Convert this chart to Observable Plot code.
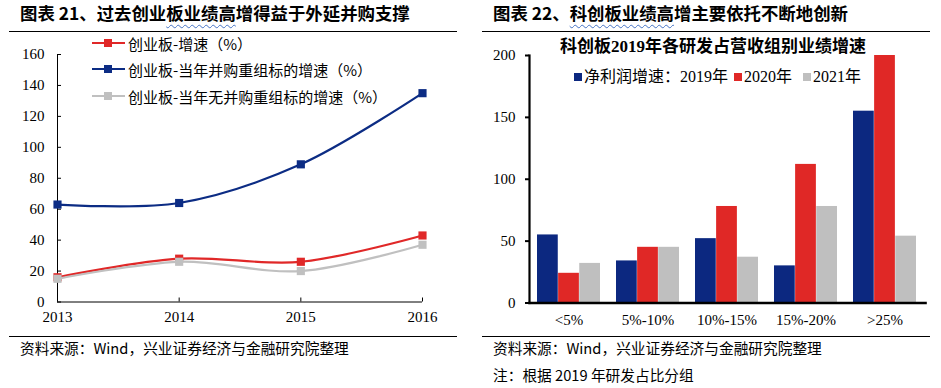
<!DOCTYPE html>
<html><head><meta charset="utf-8">
<script src="https://cdn.jsdelivr.net/npm/d3@7"></script>
<script src="https://cdn.jsdelivr.net/npm/@observablehq/plot@0.6"></script>
<style>
body{margin:0;background:#fff;}
#page{position:relative;width:941px;height:388px;overflow:hidden;font-family:"Noto Sans CJK SC",sans-serif;color:#000;background:#fff;}
.abs{position:absolute;white-space:nowrap;line-height:1;}
.title{font-size:17.4px;font-weight:700;}
.wavy{text-decoration:underline wavy #4472C4;text-decoration-thickness:1px;text-underline-offset:4px;text-decoration-skip-ink:none;}
.hr{position:absolute;height:0;border-top:1.5px solid #000;}
.src{font-size:14.7px;}
.leg{font-size:15px;display:flex;align-items:center;}
svg{position:absolute;overflow:visible;}
</style></head><body><div id="page"></div>
<script>
// ---------- Left chart data ----------
const years = [2013, 2014, 2015, 2016];
const lineSeries = ["创业板-增速（%）", "创业板-当年并购重组标的增速（%）", "创业板-当年无并购重组标的增速（%）"];
const gemGrowth = [16, 28, 26, 43];
const maGrowth = [63, 64, 89, 135];
const nonMaGrowth = [15, 26, 20, 37];
const lineColors = ["#E02828", "#0C2C84", "#C0C0C0"];
const yTicksLeft = [0, 20, 40, 60, 80, 100, 120, 140, 160];

// ---------- Right chart data ----------
const groups = ["<5%", "5%-10%", "10%-15%", "15%-20%", ">25%"];
const barSeries = ["净利润增速：2019年", "2020年", "2021年"];
const np2019 = [55, 34, 52, 30, 155];
const np2020 = [24, 45, 78, 112, 200];
const np2021 = [32, 45, 37, 78, 54];
const barColors = ["#0C2880", "#E02826", "#BFBFBF"];
const yTicksRight = [0, 50, 100, 150, 200];

const page = document.getElementById("page");
function add(html){ page.insertAdjacentHTML("beforeend", html); }

// Titles and rules
add(`<div class="abs title" style="left:20px;top:4px">图表 21、过去创业<span class="wavy">板业绩高</span>增得益于外延并购支撑</div>`);
add(`<div class="abs title" style="left:493px;top:4px">图表 22、<span class="wavy">科创板业绩高</span>增主要依托不断地创新</div>`);
add(`<div class="hr" style="left:9px;top:30.5px;width:448px"></div>`);
add(`<div class="hr" style="left:482px;top:30.5px;width:448px"></div>`);
add(`<div class="hr" style="left:9px;top:336px;width:448px"></div>`);
add(`<div class="hr" style="left:482px;top:335.5px;width:448px"></div>`);
add(`<div class="abs src" style="left:20px;top:341px">资料来源：Wind，兴业证券经济与金融研究院整理</div>`);
add(`<div class="abs src" style="left:493px;top:341px">资料来源：Wind，兴业证券经济与金融研究院整理</div>`);
add(`<div class="abs src" style="left:493px;top:368px">注：根据 2019 年研发占比分组</div>`);

// ---------- Left plot ----------
const lineValues = [gemGrowth, maGrowth, nonMaGrowth];
const lineMarks = [];
lineSeries.forEach((name, k) => {
  const data = years.map((yr, i) => ({year: yr, value: lineValues[k][i]}));
  lineMarks.push(Plot.line(data, {x: "year", y: "value", stroke: lineColors[k], strokeWidth: 2.2, curve: "catmull-rom"}));
  lineMarks.push(Plot.dot(data, {x: "year", y: "value", fill: lineColors[k], symbol: "square", r: 4.6, stroke: null}));
});
const left = Plot.plot({
  width: 470, height: 300,
  marginLeft: 57, marginRight: 48, marginTop: 19, marginBottom: 33.5,
  style: {fontFamily: "'Liberation Serif', serif", fontSize: "15px", color: "#000", background: "transparent"},
  x: {domain: [2013, 2016]},
  y: {domain: [0, 160]},
  marks: [
    Plot.axisY({ticks: yTicksLeft, tickSize: -4, tickPadding: 17, label: null}),
    Plot.axisX({ticks: years, tickSize: -4, tickPadding: 13, tickFormat: d => String(d), label: null}),
    Plot.ruleX([years[0]], {stroke: "#000", strokeWidth: 1}),
    Plot.ruleY([0], {stroke: "#000", strokeWidth: 1}),
    ...lineMarks
  ]
});
left.style.left = "0px"; left.style.top = "35px";
page.appendChild(left);

// Left legend
const legY = [43, 69, 96];
lineSeries.forEach((name, k) => {
  add(`<div class="abs" style="left:92px;top:${legY[k]-1}px;width:33px;height:2.2px;background:${lineColors[k]}"></div>`);
  add(`<div class="abs" style="left:104px;top:${legY[k]-4}px;width:8px;height:8px;background:${lineColors[k]}"></div>`);
  add(`<div class="abs leg" style="left:128px;top:${legY[k]-10}px;height:20px">${name}</div>`);
});

// ---------- Right plot ----------
const barValues = [np2019, np2020, np2021];
const step = 396 / 5;
const bw = step * 0.8 / 3;
const barMarks = barSeries.map((s, k) =>
  Plot.barY(groups.map((g, i) => ({group: g, value: barValues[k][i]})),
    {x: "group", y: "value", fill: barColors[k], insetLeft: k * bw, insetRight: (2 - k) * bw}));
const right = Plot.plot({
  width: 471, height: 300,
  marginLeft: 59, marginRight: 16, marginTop: 20, marginBottom: 32.5,
  style: {fontFamily: "'Liberation Serif', serif", fontSize: "15px", color: "#000", background: "transparent"},
  x: {domain: groups, paddingInner: 0.2, paddingOuter: 0.1},
  y: {domain: [0, 200]},
  marks: [
    ...barMarks,
    Plot.axisY({ticks: yTicksRight, tickSize: 4, tickPadding: 10, strokeWidth: 2, label: null}),
    Plot.axisX({tickSize: 0, tickPadding: 11, label: null}),
    Plot.frame({anchor: "left", stroke: "#000", strokeWidth: 2.2}),
    Plot.frame({anchor: "bottom", stroke: "#000", strokeWidth: 2.6})
  ]
});
right.style.left = "470px"; right.style.top = "35px";
page.appendChild(right);

// Right chart title and legend
add(`<div class="abs" style="left:713px;top:38px;transform:translateX(-50%);font-family:'Liberation Serif','Noto Sans CJK SC',serif;font-weight:700;font-size:17px">科创板2019年各研发占营收组别业绩增速</div>`);
const legX = [574, 734, 803];
barSeries.forEach((name, k) => {
  add(`<div class="abs" style="left:${legX[k]}px;top:73px;width:8px;height:8px;background:${barColors[k]}"></div>`);
  add(`<div class="abs leg" style="left:${legX[k]+10}px;top:67px;height:20px;font-family:'Liberation Serif','Noto Sans CJK SC',serif;font-size:16px">${name}</div>`);
});
</script>
</body></html>
